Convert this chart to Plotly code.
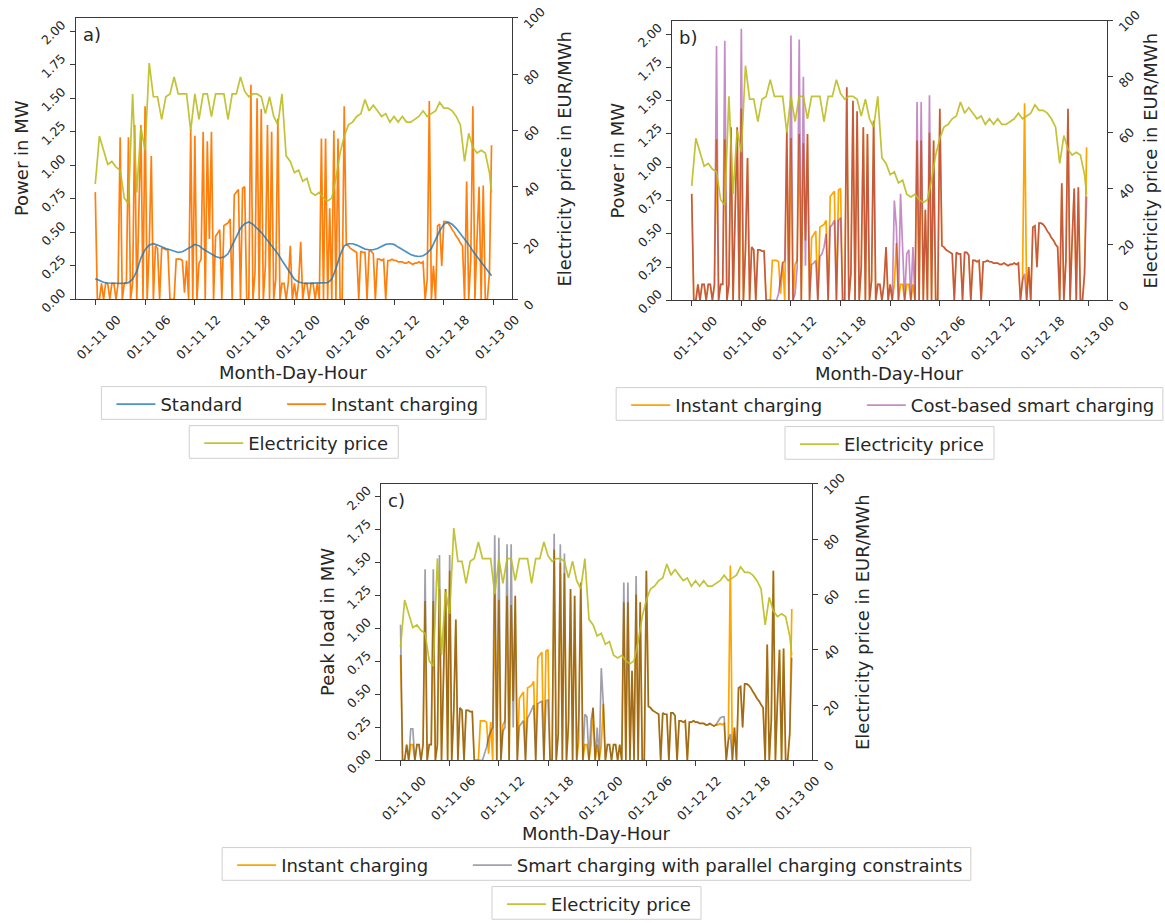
import pandas as pd
import plotly.graph_objects as go

# ---------------- data ----------------
t_half = [t.strftime("%Y-%m-%d %H:%M") for t in pd.date_range("2023-01-11 00:00", periods=96, freq="30min")] + ["2023-01-12 23:45"]
t_quarter = [t.strftime("%Y-%m-%d %H:%M") for t in pd.date_range("2023-01-11 00:00", periods=192, freq="15min")]

electricity_price = [
    41, 58, 53, 48, 49, 47, 46, 36,
    34, 73, 38, 61, 53, 84, 72, 72,
    64, 72, 73, 79, 73, 73, 73, 60,
    73, 64, 73, 73, 65, 73, 73, 73,
    64, 73, 73, 79, 74, 72, 73, 73,
    72, 66, 72, 65, 62, 73, 51, 49,
    45, 46, 42, 43, 38, 37, 38, 36,
    35, 36, 43, 52, 58, 62, 63, 65,
    66, 71, 67, 69, 67, 65, 66, 63,
    65, 63, 65, 63, 63, 64, 65, 67,
    65, 66, 67, 70, 68, 68, 67, 65,
    62, 49, 59, 54, 52, 53, 52, 45,
    38,
]

standard = [
    0.155, 0.14, 0.128, 0.122, 0.12, 0.12, 0.12, 0.121,
    0.125, 0.15, 0.21, 0.31, 0.37, 0.405, 0.415, 0.405,
    0.39, 0.38, 0.37, 0.36, 0.35, 0.355, 0.37, 0.39,
    0.41, 0.40, 0.375, 0.355, 0.335, 0.32, 0.31, 0.315,
    0.34, 0.40, 0.47, 0.53, 0.565, 0.577, 0.56, 0.53,
    0.50, 0.46, 0.42, 0.385, 0.34, 0.29, 0.24, 0.19,
    0.15, 0.13, 0.122, 0.12, 0.12, 0.12, 0.12, 0.122,
    0.125, 0.15, 0.23, 0.33, 0.40, 0.415, 0.415, 0.405,
    0.39, 0.375, 0.37, 0.37, 0.38, 0.395, 0.41, 0.415,
    0.41, 0.39, 0.37, 0.35, 0.335, 0.325, 0.32, 0.325,
    0.345, 0.38, 0.45, 0.51, 0.56, 0.578, 0.56, 0.53,
    0.49, 0.45, 0.41, 0.36, 0.32, 0.28, 0.24, 0.20,
    0.176,
]

instant_charging = [
    0.80, 0, 0, 0.12, 0, 0.12, 0.12, 0,
    0.12, 0.12, 0, 0.12, 1.21, 0, 0.12, 0.12,
    1.21, 0, 0.12, 1.30, 0, 0.75, 1.30, 0,
    1.44, 0, 0.38, 1.07, 0, 0.40, 0.38, 0,
    0.38, 0.38, 0.37, 0.37, 0, 0, 0, 0.30,
    0.30, 0.30, 0.29, 0.05, 0.29, 0, 1.27, 0,
    1.22, 0, 0.27, 0.30, 1.25, 0, 1.18, 0.45,
    1.25, 0, 0.47, 0.50, 0.52, 0, 0.55, 0.56,
    0.57, 0.60, 0, 0.78, 0.80, 0.82, 0, 0.83,
    0.84, 0, 0, 1.60, 0, 0.20, 1.50, 0,
    1.42, 0, 0.25, 1.30, 0, 1.25, 0, 0.15,
    1.35, 0, 0.12, 0.12, 0, 0.12, 0.40, 0,
    0.12, 0, 0.12, 0.43, 0, 0.12, 0.12, 0,
    0.12, 0.12, 0, 0.12, 0, 1.20, 0, 1.20,
    0, 0.68, 0, 1.26, 0, 1.20, 0, 0,
    1.44, 0.41, 0.40, 0.38, 0.37, 0.36, 0.35, 0,
    0.36, 0.35, 0.35, 0, 0.36, 0.36, 0.34, 0,
    0.30, 0.30, 0.29, 0.30, 0, 0.29, 0.29, 0.30,
    0.29, 0.29, 0.28, 0.28, 0.28, 0.27, 0.27, 0.28,
    0.27, 0.26, 0.27, 0.27, 0.28, 0.27, 0.28, 0,
    0.15, 1.48, 0, 0.25, 0, 0.55, 0.56, 0.25,
    0.58, 0.58, 0.57, 0.55, 0.52, 0.50, 0.47, 0.45,
    0.42, 0.40, 0, 0.88, 0, 0.30, 1.44, 0,
    0.45, 0.84, 0, 0.85, 0, 0, 0.20, 1.15,
]

cost_based_smart = [
    0.80, 0, 0, 0.12, 0, 0.12, 0.12, 0,
    0.12, 0.12, 0, 0.12, 1.91, 0, 0.12, 0.12,
    1.95, 0, 0.12, 1.30, 0, 0.75, 1.30, 0,
    2.04, 0, 0.38, 1.07, 0, 0.40, 0.38, 0,
    0.38, 0.38, 0.37, 0.37, 0, 0, 0, 0,
    0, 0, 0.05, 0.15, 0.28, 0.30, 1.27, 0,
    1.99, 0, 0.05, 0.25, 1.96, 0, 1.68, 0.26,
    1.25, 0, 0.27, 0.28, 0.30, 0, 0.33, 0.35,
    0.40, 0.50, 0, 0.55, 0.57, 0.60, 0, 0.60,
    0.62, 0, 0, 1.60, 0, 0.20, 1.50, 0,
    1.42, 0, 0.25, 1.30, 0, 1.25, 0, 0.15,
    1.35, 0, 0.12, 0.12, 0, 0.12, 0.40, 0,
    0.12, 0, 0.75, 0.55, 0, 0.80, 0.40, 0,
    0.35, 0.38, 0, 0.40, 0, 1.49, 0, 1.49,
    0, 0.68, 0, 1.54, 0, 1.20, 0, 0,
    1.44, 0.41, 0.40, 0.38, 0.37, 0.36, 0.35, 0,
    0.36, 0.35, 0.35, 0, 0.36, 0.36, 0.34, 0,
    0.30, 0.30, 0.29, 0.30, 0, 0.29, 0.29, 0.30,
    0.29, 0.29, 0.28, 0.28, 0.28, 0.27, 0.27, 0.28,
    0.27, 0.26, 0.27, 0.27, 0.28, 0.27, 0.28, 0,
    0.15, 0.20, 0, 0.25, 0, 0.55, 0.56, 0.25,
    0.58, 0.58, 0.57, 0.55, 0.52, 0.50, 0.47, 0.45,
    0.42, 0.40, 0, 0.88, 0, 0.30, 1.44, 0,
    0.45, 0.84, 0, 0.85, 0, 0, 0.20, 0.78,
]

smart_parallel = [
    1.03, 0, 0, 0.12, 0, 0.24, 0.24, 0,
    0.12, 0.12, 0, 0.12, 1.45, 0, 0.12, 0.12,
    1.45, 0, 0.12, 1.56, 0, 0.75, 1.30, 0,
    1.56, 0, 0.38, 1.07, 0, 0.40, 0.38, 0,
    0.38, 0.38, 0.37, 0.37, 0, 0, 0, 0,
    0, 0.05, 0.10, 0.18, 0.22, 0.25, 1.71, 0,
    1.69, 0, 0.22, 0.25, 1.64, 0, 1.64, 0.25,
    1.25, 0, 0.26, 0.28, 0.30, 0, 0.32, 0.35,
    0.38, 0.42, 0, 0.43, 0.44, 0.45, 0, 0.45,
    0.46, 0, 0, 1.72, 0, 0.20, 1.64, 0,
    1.57, 0, 0.30, 1.30, 0, 1.25, 0, 0.35,
    1.35, 0, 0.35, 0.33, 0, 0.30, 0.40, 0,
    0.25, 0, 0.70, 0.43, 0, 0.12, 0.12, 0,
    0.12, 0.12, 0, 0.12, 0, 1.35, 0, 1.35,
    0, 0.68, 0, 1.40, 0, 1.20, 0, 0,
    1.44, 0.41, 0.40, 0.38, 0.37, 0.36, 0.35, 0,
    0.36, 0.35, 0.35, 0, 0.36, 0.36, 0.34, 0,
    0.30, 0.30, 0.29, 0.30, 0, 0.29, 0.29, 0.30,
    0.29, 0.29, 0.28, 0.28, 0.28, 0.27, 0.27, 0.28,
    0.27, 0.26, 0.27, 0.30, 0.32, 0.33, 0.33, 0,
    0.15, 0.20, 0, 0.25, 0, 0.55, 0.56, 0.25,
    0.58, 0.58, 0.57, 0.55, 0.52, 0.50, 0.47, 0.45,
    0.42, 0.40, 0, 0.88, 0, 0.30, 1.44, 0,
    0.45, 0.84, 0, 0.85, 0, 0, 0.20, 0.78,
]

panel_labels = ["a)", "b)", "c)"]
left_titles = ["Power in MW", "Power in MW", "Peak load in MW"]
right_title = "Electricity price in EUR/MWh"
x_title = "Month-Day-Hour"

# ---------------- styling ----------------
FONT = "DejaVu Sans"
TXT = "#262626"
AX = "#3a3a3a"
C_STD = "#1f77b4"
C_INST_A = "#ff7f0e"
C_INST = "#ffa500"
C_COST = "#800080"
C_SMART = "#1e1e3c"
C_PRICE = "#bcbd22"
LW = 1.7
LEG_FS = 18

W, H = 1165, 923
panels = {
    "a": dict(x=(75.5, 512), y=(18, 302)),
    "b": dict(x=(672, 1107), y=(21, 303)),
    "c": dict(x=(381, 812), y=(488, 767)),
}

# approximate rendered widths (px) of legend texts at 18 px DejaVu Sans
text_w = {
    "Standard": 81, "Instant charging": 146, "Cost-based smart charging": 243,
    "Smart charging with parallel charging constraints": 445, "Electricity price": 140,
}

def xdom(p):
    return [panels[p]["x"][0] / W, panels[p]["x"][1] / W]

def ydom(p):
    return [1 - panels[p]["y"][1] / H, 1 - panels[p]["y"][0] / H]

def pcx(p):
    return sum(panels[p]["x"]) / 2

def pcy(p):
    return sum(panels[p]["y"]) / 2

fig = go.Figure()

# panel a
fig.add_trace(go.Scatter(x=t_quarter, y=instant_charging, name="Instant charging", mode="lines",
                         line=dict(color=C_INST_A, width=LW), xaxis="x", yaxis="y", legend="legend2"))
fig.add_trace(go.Scatter(x=t_half, y=standard, name="Standard", mode="lines", opacity=0.8,
                         line=dict(color=C_STD, width=LW), xaxis="x", yaxis="y", legend="legend"))
fig.add_trace(go.Scatter(x=t_half, y=electricity_price, name="Electricity price", mode="lines", opacity=0.9,
                         line=dict(color=C_PRICE, width=LW), xaxis="x", yaxis="y2", legend="legend3"))
# panel b
fig.add_trace(go.Scatter(x=t_quarter, y=instant_charging, name="Instant charging", mode="lines",
                         line=dict(color=C_INST, width=LW), xaxis="x2", yaxis="y3", legend="legend4"))
fig.add_trace(go.Scatter(x=t_quarter, y=cost_based_smart, name="Cost-based smart charging", mode="lines",
                         opacity=0.45, line=dict(color=C_COST, width=LW), xaxis="x2", yaxis="y3", legend="legend5"))
fig.add_trace(go.Scatter(x=t_half, y=electricity_price, name="Electricity price", mode="lines", opacity=0.9,
                         line=dict(color=C_PRICE, width=LW), xaxis="x2", yaxis="y4", legend="legend6"))
# panel c
fig.add_trace(go.Scatter(x=t_quarter, y=instant_charging, name="Instant charging", mode="lines",
                         line=dict(color=C_INST, width=LW), xaxis="x3", yaxis="y5", legend="legend7"))
fig.add_trace(go.Scatter(x=t_quarter, y=smart_parallel, name="Smart charging with parallel charging constraints",
                         mode="lines", opacity=0.42, line=dict(color=C_SMART, width=LW), xaxis="x3", yaxis="y5",
                         legend="legend8"))
fig.add_trace(go.Scatter(x=t_half, y=electricity_price, name="Electricity price", mode="lines", opacity=0.9,
                         line=dict(color=C_PRICE, width=LW), xaxis="x3", yaxis="y6", legend="legend9"))

tickfont = dict(family=FONT, size=12.5, color=TXT)
titlefont = dict(family=FONT, size=18, color=TXT)
xrange = ["2023-01-10 21:37", "2023-01-13 02:13"]

def xaxis(p, yname):
    return dict(domain=xdom(p), anchor=yname, type="date", range=xrange,
                tick0="2023-01-11 00:00", dtick=6 * 3600 * 1000, tickformat="%m-%d %H",
                tickangle=-45, ticks="outside", ticklen=5, tickwidth=1, tickcolor=AX,
                showline=True, linecolor=AX, linewidth=1, mirror=True, showgrid=False,
                zeroline=False, tickfont=tickfont, automargin=False, ticklabeloverflow="allow",
                ticklabelshift=22, ticklabelstandoff=2)

def yleft(p, xname):
    return dict(domain=ydom(p), anchor=xname, range=[0, 2.1], dtick=0.25, tick0=0, tickformat=".2f",
                tickangle=-45, ticks="outside", ticklen=5, tickwidth=1, tickcolor=AX,
                showline=True, linecolor=AX, linewidth=1, showgrid=False, zeroline=False,
                tickfont=tickfont, automargin=False, ticklabeloverflow="allow",
                ticklabelshift=-8, ticklabelstandoff=5)

def yright(p, xname, over):
    return dict(domain=ydom(p), anchor=xname, overlaying=over, side="right", range=[0, 100.05],
                tickvals=[0, 20, 40, 60, 80, 100], tickangle=-45, ticks="outside", ticklen=5, tickwidth=1,
                tickcolor=AX, showline=True, linecolor=AX, linewidth=1, showgrid=False, zeroline=False,
                tickfont=tickfont, automargin=False, ticklabeloverflow="allow",
                ticklabelshift=9, ticklabelstandoff=4)

layout = dict(
    width=W, height=H, autosize=False,
    margin=dict(l=0, r=0, t=0, b=0),
    paper_bgcolor="white", plot_bgcolor="white",
    font=dict(family=FONT, color=TXT),
    showlegend=True,
    xaxis=xaxis("a", "y"), yaxis=yleft("a", "x"), yaxis2=yright("a", "x", "y"),
    xaxis2=xaxis("b", "y3"), yaxis3=yleft("b", "x2"), yaxis4=yright("b", "x2", "y3"),
    xaxis3=xaxis("c", "y5"), yaxis5=yleft("c", "x3"), yaxis6=yright("c", "x3", "y5"),
)

# ---- legends: one per entry, framed by a light box, laid out like the reference ----
shapes = []

def item_legend(line_start, text_center_y):
    # plotly draws the legend line 5px right of the legend origin, 30px long
    return dict(orientation="h", x=(line_start - 1) / W, y=1 - (text_center_y - 16.7) / H,
                xanchor="left", yanchor="top", bgcolor="rgba(0,0,0,0)", borderwidth=0,
                itemwidth=39, font=dict(family=FONT, size=LEG_FS, color=TXT))

def frame(x0, x1, y0, y1):
    shapes.append(dict(type="rect", xref="paper", yref="paper", x0=x0 / W, x1=x1 / W,
                       y0=1 - y1 / H, y1=1 - y0 / H, line=dict(color="#cfcfcf", width=1),
                       fillcolor="rgba(255,255,255,0)", layer="above"))

row_gap1, row_gap2 = 88, 127.3   # distance from panel bottom to the top of each legend box
for p, (n1, n2), ids in [("a", ("Standard", "Instant charging"), ("legend", "legend2", "legend3")),
                         ("b", ("Instant charging", "Cost-based smart charging"), ("legend4", "legend5", "legend6")),
                         ("c", ("Instant charging", "Smart charging with parallel charging constraints"),
                          ("legend7", "legend8", "legend9"))]:
    cx = pcx(p)
    bottom = panels[p]["y"][1]
    w1, w2 = text_w[n1], text_w[n2]
    width = 157.7 + w1 + w2
    left = cx - width / 2
    top = bottom + row_gap1
    tc = top + 16
    line1 = left + 7
    line2 = left + 60 + w1 + 36.7
    layout[ids[0]] = item_legend(line1 + 4, tc)
    layout[ids[1]] = item_legend(line2 + 4, tc)
    frame(left, left + width, top, top + 33)
    wp = text_w["Electricity price"]
    width2 = 69 + wp
    left2 = cx - width2 / 2
    top2 = bottom + row_gap2
    layout[ids[2]] = item_legend(left2 + 7 + 4, top2 + 16)
    frame(left2, left2 + width2, top2, top2 + 33)

layout["shapes"] = shapes
fig.update_layout(**layout)

# ---- axis titles and panel labels ----
right_title_x = {"a": 565, "b": 1151, "c": 862}
for lab, ltitle, p in zip(panel_labels, left_titles, ["a", "b", "c"]):
    x0, x1 = panels[p]["x"]
    y0, y1 = panels[p]["y"]
    fig.add_annotation(text=lab, xref="paper", yref="paper", x=(x0 + 5) / W, y=1 - (y0 + 4) / H,
                       xanchor="left", yanchor="top", showarrow=False,
                       font=dict(family=FONT, size=18, color=TXT))
    fig.add_annotation(text=x_title, xref="paper", yref="paper", x=pcx(p) / W, y=1 - (y1 + 73.5) / H,
                       xanchor="center", yanchor="middle", showarrow=False, font=titlefont)
    fig.add_annotation(text=ltitle, xref="paper", yref="paper", x=(x0 - 54) / W, y=1 - pcy(p) / H,
                       xanchor="center", yanchor="middle", textangle=-90, showarrow=False, font=titlefont)
    fig.add_annotation(text=right_title, xref="paper", yref="paper", x=right_title_x[p] / W, y=1 - pcy(p) / H,
                       xanchor="center", yanchor="middle", textangle=-90, showarrow=False, font=titlefont)

fig.write_html("out.html", config={"displayModeBar": False})
